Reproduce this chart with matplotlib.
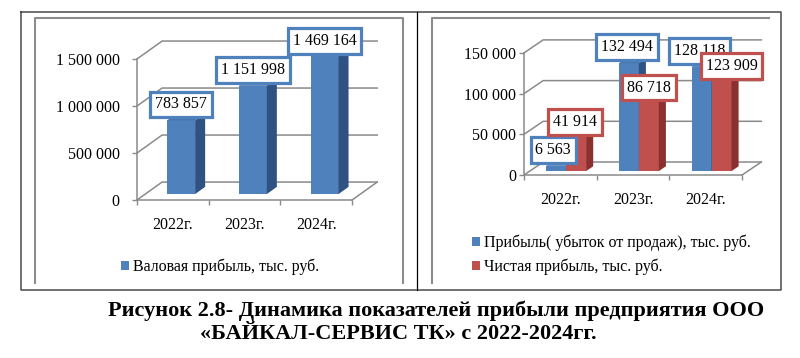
import matplotlib
matplotlib.use("Agg")
import matplotlib.pyplot as plt
from matplotlib.lines import Line2D

plt.rcParams['font.family'] = ['Liberation Serif', 'DejaVu Serif']
plt.rcParams['font.size'] = 11.5

# данные
years = ['2022г.', '2023г.', '2024г.']
gross_profit = [783857, 1151998, 1469164]
sales_profit = [6563, 132494, 128118]
net_profit = [41914, 86718, 123909]

left_ticks = [0, 500000, 1000000, 1500000]
right_ticks = [0, 50000, 100000, 150000]

gross_label = 'Валовая прибыль, тыс. руб.'
sales_label = 'Прибыль( убыток от продаж), тыс. руб.'
net_label = 'Чистая прибыль, тыс. руб.'
caption_1 = 'Рисунок 2.8- Динамика показателей прибыли предприятия ООО'
caption_2 = '«БАЙКАЛ-СЕРВИС ТК» с 2022-2024гг.'

BLUE, BLUE_SIDE, BLUE_TOP = '#4F81BD', '#2F5282', '#4676B0'
RED, RED_SIDE, RED_TOP = '#C0504D', '#8A302E', '#B34845'
GRID = '#8a8a8a'

W, H = 800, 358
fig = plt.figure(figsize=(W / 100, H / 100), dpi=100)


def fx(px):
    return px / W


def fy(py):
    return 1 - py / H


def make_axes(x0, sx, y0, sy, xlim, ylim):
    # ставим оси так, чтобы x=0 и v=0 попали в нужные пиксели
    left = x0 + sx * xlim[0]
    right = x0 + sx * xlim[1]
    bottom = y0 - sy * ylim[0]
    top = y0 - sy * ylim[1]
    ax = fig.add_axes([fx(left), fy(bottom), fx(right - left), (bottom - top) / H])
    ax.set_xlim(*xlim)
    ax.set_ylim(*ylim)
    ax.patch.set_visible(False)
    return ax


def fmt(v):
    return '{:,}'.format(v).replace(',', ' ')


def setup_walls(ax, ticks, dx, dy, ypad):
    n = len(years)
    for s in ['top', 'right']:
        ax.spines[s].set_visible(False)
    ax.spines['left'].set_position(('data', 0))
    ax.spines['bottom'].set_position(('data', 0))
    ax.spines['left'].set_bounds(ticks[0], ticks[-1])
    ax.spines['bottom'].set_bounds(0, n)
    for s in ['left', 'bottom']:
        ax.spines[s].set_color(GRID)
        ax.spines[s].set_linewidth(1.1)
    ax.set_yticks(ticks)
    ax.set_yticklabels([fmt(t) for t in ticks])
    ax.tick_params(axis='y', direction='out', length=3.6, width=1, color=GRID, pad=ypad)
    ax.set_xticks(range(n + 1))
    ax.set_xticklabels([])
    ax.set_xticks([i + 0.5 for i in range(n)], minor=True)
    ax.set_xticklabels(years, minor=True)
    ax.tick_params(axis='x', which='major', direction='out', length=3.6, width=1, color=GRID)
    ax.tick_params(axis='x', which='minor', length=0, pad=12)
    # задняя стенка и пол
    for t in ticks:
        ax.plot([0, dx, n + dx], [t, t + dy, t + dy], color=GRID, lw=1.1, zorder=1)
    ax.plot([n, n + dx], [0, dy], color=GRID, lw=1.1, zorder=1)


def bars3d(ax, xs, vals, w, dx, dy, f0, f1, c, cs, ct, label):
    bc = ax.bar([x + f0 * dx for x in xs], vals, width=w, bottom=f0 * dy,
                color=c, zorder=3, label=label)
    ddx = (f1 - f0) * dx
    for x, v in zip(xs, vals):
        xl = x + f0 * dx - w / 2
        xr = xl + w
        b0 = f0 * dy
        b1 = f1 * dy
        ax.fill([xr, xr + ddx, xr + ddx, xr], [b0, b1, v + b1, v + b0],
                color=cs, zorder=3, lw=0)
        ax.fill([xl, xr, xr + ddx, xl + ddx], [v + b0, v + b0, v + b1, v + b1],
                color=ct, zorder=3, lw=0)
    return bc


def labels(ax, xs, vals, dy0, offsets, ec):
    for x, v, off in zip(xs, vals, offsets):
        ax.annotate(fmt(v), xy=(x, v + dy0), xytext=off, textcoords='offset pixels',
                    ha='center', va='center', fontsize=11.5, zorder=10,
                    annotation_clip=False,
                    bbox=dict(boxstyle='square,pad=0.3', fc='white', ec=ec, lw=2.3))


# ---- левая диаграмма
DXL, DYL = 0.35, 191000
axl = make_axes(137, 71.7, 200, 94e-6, (-1.4, 3.8), (-450000, 1750000))
setup_walls(axl, left_ticks, DXL, DYL, ypad=9)
cx = [i + 0.5 for i in range(len(years))]
f0l, f1l = 0.33, 0.73
gb = bars3d(axl, cx, gross_profit, 0.39, DXL, DYL, f0l, f1l, BLUE, BLUE_SIDE, BLUE_TOP, gross_label)
labels(axl, [x + f0l * DXL for x in cx], gross_profit, f0l * DYL,
       [(0, 16), (0, 16), (0, 15)], BLUE)

# ---- правая диаграмма
DXR, DYR = 0.264, 15970
axr = make_axes(524, 72.7, 175, 8.14e-4, (-1.2, 3.6), (-55000, 175000))
setup_walls(axr, right_ticks, DXR, DYR, ypad=2)
f0r, f1r = 0.3, 0.67
wr = 0.275
xb = [x - wr / 2 for x in cx]
xr_ = [x + wr / 2 for x in cx]
sb = bars3d(axr, xb, sales_profit, wr, DXR, DYR, f0r, f1r, BLUE, BLUE_SIDE, BLUE_TOP, sales_label)
nb = bars3d(axr, xr_, net_profit, wr, DXR, DYR, f0r, f1r, RED, RED_SIDE, RED_TOP, net_label)
labels(axr, [x + f0r * DXR for x in xb], sales_profit, f0r * DYR,
       [(-3, 16), (-2, 16), (-2, 16)], BLUE)
labels(axr, [x + f0r * DXR for x in xr_], net_profit, f0r * DYR,
       [(-1, 15), (0, 13), (10, 4)], RED)

# легенды
fig.legend(handles=[gb], labels=[gross_label], loc='center left',
           bbox_to_anchor=(fx(121), fy(267)), frameon=False, fontsize=11.5,
           handlelength=0.5, handleheight=0.5, handletextpad=0.25,
           borderpad=0, borderaxespad=0)
fig.legend(handles=[sb, nb], labels=[sales_label, net_label], loc='center left',
           bbox_to_anchor=(fx(472), fy(255)), frameon=False, fontsize=11.5,
           handlelength=0.5, handleheight=0.5, handletextpad=0.25,
           labelspacing=0.45, borderpad=0, borderaxespad=0)


# рамки таблицы
def fline(xs, ys, **kw):
    fig.add_artist(Line2D([fx(x) for x in xs], [fy(y) for y in ys], **kw))


fline([21, 781, 781, 21, 21], [12, 12, 290, 290, 12], color='#4a4a4a', lw=1.1)
fline([417, 417], [12, 290], color='black', lw=0.9)
fline([35, 35, 403, 403], [283, 18, 18, 283], color='#8c8c8c', lw=1.5)
fline([432, 432, 769], [283, 18, 18], color='#8c8c8c', lw=1.5)

# подпись
fig.text(fx(108), fy(311), caption_1, fontsize=16, fontweight='bold', va='center', ha='left')
fig.text(fx(200), fy(334), caption_2, fontsize=16, fontweight='bold', va='center', ha='left')

fig.savefig('out.png', dpi=100)
